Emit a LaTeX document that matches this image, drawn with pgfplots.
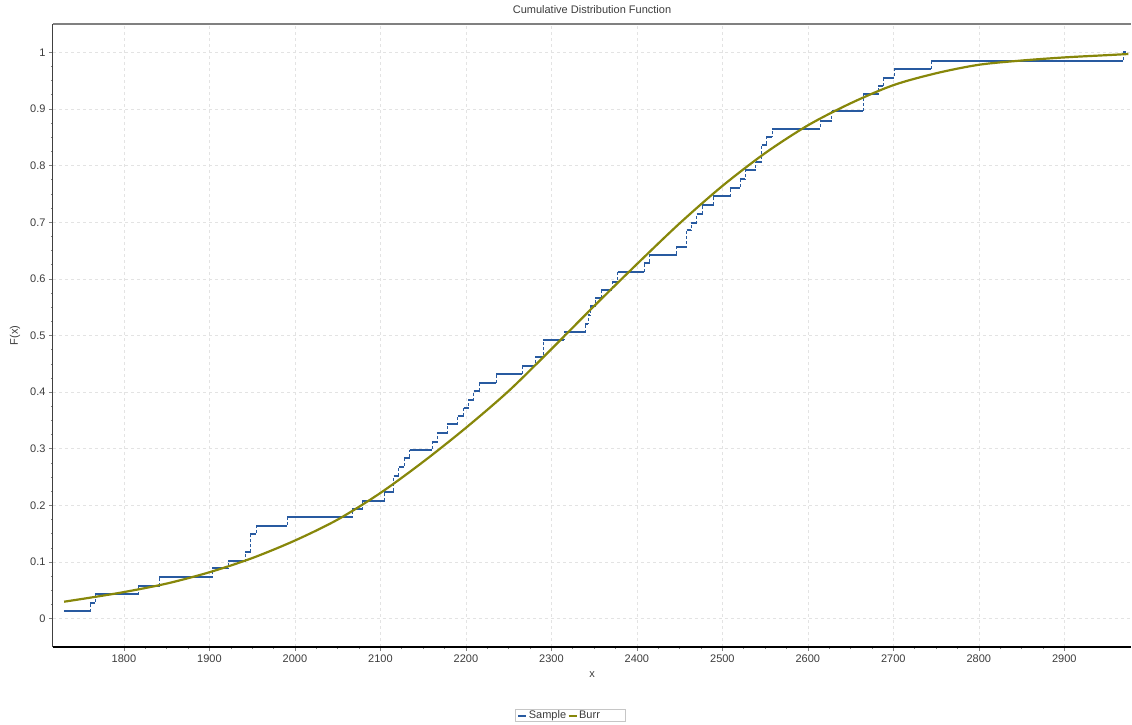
\documentclass[border=0pt]{standalone}
\usepackage{pgfplots}
\pgfplotsset{compat=1.18}
\usepackage{pgfplotstable}
\usepackage{fontspec}
\setmainfont{Liberation Sans}
\definecolor{sampleblue}{RGB}{40,90,160}
\definecolor{burrolive}{RGB}{135,135,10}
\definecolor{txt}{RGB}{60,60,60}

% sample ECDF: step starts at x, level y, step ends at x1
\pgfplotstableread{
x y x1
1729.7 0.0136 1760.2
1760.2 0.0282 1766.0
1766.0 0.0435 1816.8
1816.8 0.058 1841.4
1841.4 0.073 1903.4
1903.4 0.0889 1922.2
1922.2 0.102 1941.7
1941.7 0.117 1947.8
1947.8 0.149 1954.6
1954.6 0.164 1991.2
1991.2 0.179 2066.6
2066.6 0.1935 2079.0
2079.0 0.208 2104.4
2104.4 0.224 2115.4
2115.4 0.2522 2121.2
2121.2 0.267 2127.9
2127.9 0.283 2134.1
2134.1 0.2975 2160.3
2160.3 0.312 2166.1
2166.1 0.328 2177.9
2177.9 0.343 2190.3
2190.3 0.3575 2197.3
2197.3 0.372 2203.2
2203.2 0.387 2209.0
2209.0 0.402 2215.7
2215.7 0.417 2235.2
2235.2 0.4316 2265.7
2265.7 0.447 2281.3
2281.3 0.462 2290.2
2290.2 0.4928 2315.2
2315.2 0.506 2339.8
2339.8 0.521 2343.3
2343.3 0.5356 2345.7
2345.7 0.5515 2351.5
2351.5 0.566 2358.2
2358.2 0.580 2371.0
2371.0 0.595 2377.6
2377.6 0.612 2408.9
2408.9 0.628 2414.8
2414.8 0.643 2446.4
2446.4 0.657 2458.1
2458.1 0.6855 2463.6
2463.6 0.699 2469.8
2469.8 0.714 2476.5
2476.5 0.730 2489.3
2489.3 0.7455 2508.8
2508.8 0.7613 2520.5
2520.5 0.776 2526.3
2526.3 0.7914 2538.9
2538.9 0.806 2545.9
2545.9 0.8355 2551.8
2551.8 0.8513 2558.3
2558.3 0.8649 2614.5
2614.5 0.8796 2627.9
2627.9 0.896 2665.0
2665.0 0.9266 2682.5
2682.5 0.941 2688.4
2688.4 0.955 2700.8
2700.8 0.971 2744.6
2744.6 0.985 2969.0
2969.0 1.000 2972.0
}\sample

\pgfplotstableread{
x y
1730 0.030
1760 0.037
1800 0.047
1850 0.062
1900 0.082
1950 0.107
2000 0.138
2050 0.175
2100 0.222
2150 0.277
2200 0.337
2250 0.402
2300 0.476
2350 0.552
2400 0.626
2450 0.698
2500 0.764
2550 0.822
2600 0.871
2650 0.910
2700 0.942
2750 0.963
2800 0.978
2850 0.9855
2900 0.991
2950 0.995
2975 0.997
}\burr

\begin{document}
\begin{tikzpicture}
\path[use as bounding box] (-53pt,-77pt) rectangle (1079pt,647pt);
\begin{axis}[
  at={(0pt,0pt)}, anchor=south west,
  scale only axis, width=1078pt, height=623pt,
  xmin=1717, xmax=2978, ymin=-0.05, ymax=1.05,
  axis x line=bottom, axis y line=left,
  x axis line style={-, black, line width=1.6pt},
  y axis line style={-, black!75, line width=1pt},
  tick align=outside,
  major tick length=4pt, minor tick length=2pt,
  tick style={gray, line width=0.6pt},
  xtick={1800,1900,...,2900},
  ytick={0,0.1,0.2,0.3,0.4,0.5,0.6,0.7,0.8,0.9,1},
  minor x tick num=3, minor y tick num=3,
  grid=major,
  major grid style={dash pattern=on 3pt off 3pt, color=gray!22, line width=0.6pt},
  /pgf/number format/.cd, assume math mode=true, 1000 sep={}, fixed, precision=1,
  /pgfplots/.cd,
  tick label style={font=\fontsize{11}{13}\selectfont, text=txt},
  title={Cumulative Distribution Function},
  title style={at={(axis description cs:0.5,1)}, anchor=center, yshift=8pt, font=\fontsize{11}{13}\selectfont, text=txt},
  xlabel={x},
  xlabel style={at={(axis description cs:0.5,0)}, anchor=center, yshift=-28pt, font=\fontsize{11}{13}\selectfont, text=txt},
  ylabel={F(x)},
  ylabel style={at={(axis description cs:0,0.5)}, anchor=center, yshift=38pt, font=\fontsize{11}{13}\selectfont, text=txt},
  legend columns=2,
  legend style={at={(axis description cs:0.4286,-0.11)}, anchor=west, draw=gray!45, line width=0.6pt,
    font=\fontsize{11}{13}\selectfont, text=txt, inner xsep=2pt, inner ysep=0.5pt,
    nodes={inner xsep=1.5pt, inner ysep=1pt},
    /tikz/every even column/.append style={column sep=0pt}},
  legend image code/.code={\draw[#1, line width=2pt] (0pt,0pt) -- (8pt,0pt);},
]
\draw[gray, line width=1.5pt] (rel axis cs:0,1) -- (rel axis cs:1,1);
\addplot[sampleblue, line width=0.6pt, densely dashed, const plot, forget plot] table[x=x,y=y] {\sample};
\addplot[sampleblue, line width=2pt, no markers, forget plot,
  quiver={u=\thisrow{x1}-\thisrow{x}, v=0}] table[x=x,y=y] {\sample};
\addlegendimage{sampleblue, line width=2pt}
\addlegendentry{Sample}
\addplot[burrolive, line width=2.2pt, smooth] table[x=x,y=y] {\burr};
\addlegendentry{Burr\hspace*{22pt}}
\end{axis}
\end{tikzpicture}
\end{document}
